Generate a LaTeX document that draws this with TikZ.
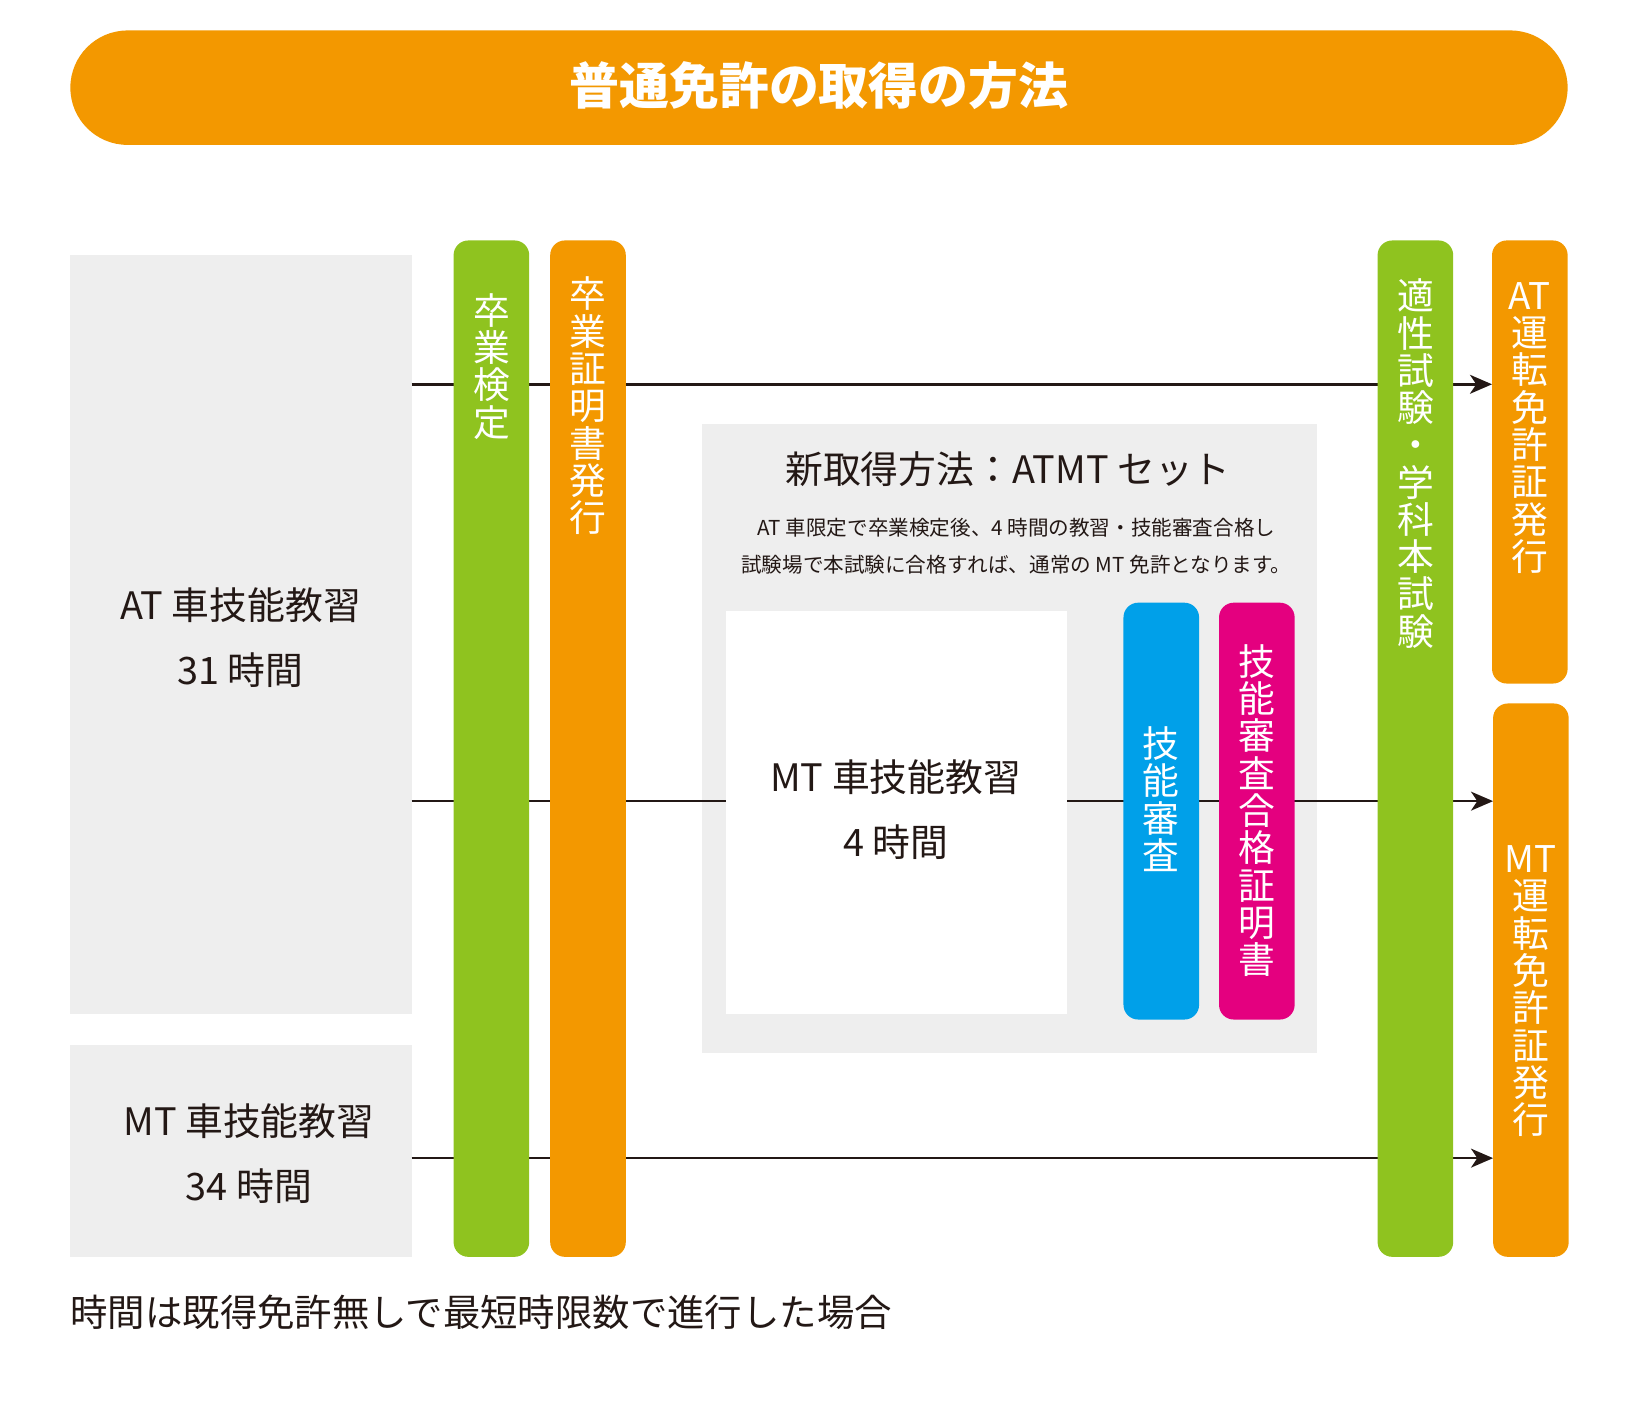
\documentclass[tikz,border=0pt]{standalone}
\usepackage{fontspec}
\setmainfont{Noto Sans CJK JP}
\usetikzlibrary{arrows.meta}
\definecolor{jorange}{HTML}{F39800}
\definecolor{jgreen}{HTML}{8FC31F}
\definecolor{jblue}{HTML}{00A0E9}
\definecolor{jmag}{HTML}{E4007F}
\definecolor{jgray}{HTML}{EEEEEE}
\definecolor{jink}{HTML}{231815}
\pgfdeclarelayer{back}
\pgfdeclarelayer{mid}
\pgfsetlayers{back,mid,main}
\begin{document}
\begin{tikzpicture}[x=1pt,y=-1pt,
  panel/.style={fill=jgray, draw=none, inner sep=0pt, outer sep=0pt},
  bar/.style={fill=#1, draw=none, rounded corners=14pt, inner sep=0pt, outer sep=0pt, minimum width=72pt},
  vlab/.style={text=white, align=center, inner sep=0pt, font=\fontsize{35}{35.5}\selectfont},
  hlab/.style={text=jink, align=center, inner sep=0pt, font=\fontsize{36}{62}\selectfont},
  flow/.style={draw=jink, line width=2.5pt},
  flowarrow/.style={flow, -{Stealth[length=21pt,width=18pt,inset=6pt]}}
]
\useasboundingbox (0,0) rectangle (1568.6,1338.1);

% title
\node[fill=jorange, rounded corners=54.5pt, minimum width=1426pt, minimum height=109pt, inner sep=0pt] (title) at (780,83.5) {};
\node[text=white, font=\fontsize{47.5}{50}\selectfont\bfseries, inner sep=0pt] (titletext) at (780,82) {普通免許の取得の方法};

% background panels
\begin{pgfonlayer}{back}
\node[panel, minimum width=325pt, minimum height=723pt] (atbox) at (229.5,604.5) {};
\node[panel, minimum width=325pt, minimum height=202pt] (mtbox) at (229.5,1096) {};
\node[panel, minimum width=585pt, minimum height=599pt] (atmt) at (961.5,703.5) {};
\end{pgfonlayer}

% bars and white box
\node[bar=jgreen, minimum height=968pt] (g1) at (468,713) {};
\node[bar=jorange, minimum height=968pt] (o1) at (560,713) {};
\node[bar=jgreen, minimum height=968pt] (g2) at (1348,713) {};
\node[bar=jorange, minimum height=422pt] (atlic) at (1457,440) {};
\node[bar=jorange, minimum height=527pt] (mtlic) at (1458,933.5) {};
\node[fill=white, inner sep=0pt, outer sep=0pt, minimum width=325pt, minimum height=384pt] (white) at (853.5,774) {};
\node[bar=jblue, minimum height=397pt] (blue) at (1106,772.5) {};
\node[bar=jmag, minimum height=397pt] (mag) at (1197,772.5) {};

% connectors
\coordinate (r1) at (0,366);
\coordinate (r2) at (0,763);
\coordinate (r3) at (0,1103);
\begin{pgfonlayer}{mid}
\draw[flowarrow] (atbox.east |- r1) -- (atlic.west |- r1);
\draw[flowarrow] (atbox.east |- r2) -- (mtlic.west |- r2);
\draw[flowarrow] (mtbox.east |- r3) -- (mtlic.west |- r3);
\end{pgfonlayer}

% vertical labels
\node[vlab] (l1) at (468,349) {卒\\業\\検\\定};
\node[vlab] (l2) at (560,386.5) {卒\\業\\証\\明\\書\\発\\行};
\node[vlab] (l3) at (1348,441.5) {適\\性\\試\\験\\・\\学\\科\\本\\試\\験};
\node[vlab] (l4) at (1457,407.5) {AT\\運\\転\\免\\許\\証\\発\\行};
\node[vlab] (l5) at (1458,944) {MT\\運\\転\\免\\許\\証\\発\\行};
\node[vlab] (l6) at (1106,761) {技\\能\\審\\査};
\node[vlab] (l7) at (1197,772) {技\\能\\審\\査\\合\\格\\証\\明\\書};

% horizontal labels
\node[hlab] (t1) at (229,607) {AT 車技能教習\\31 時間};
\node[hlab] (t2) at (237,1099) {MT 車技能教習\\34 時間};
\node[hlab] (t3) at (853,771) {MT 車技能教習\\4 時間};
\node[hlab] (t4) at (960,447) {新取得方法：ATMT セット};
\node[text=jink, align=center, inner sep=0pt, font=\fontsize{19.6}{35}\selectfont] (t5) at (968,520) {AT 車限定で卒業検定後、4 時間の教習・技能審査合格し\\試験場で本試験に合格すれば、通常の MT 免許となります。};
\node[text=jink, anchor=west, inner sep=0pt, font=\fontsize{35.6}{40}\selectfont] (foot) at (67,1250) {時間は既得免許無しで最短時限数で進行した場合};
\end{tikzpicture}
\end{document}
